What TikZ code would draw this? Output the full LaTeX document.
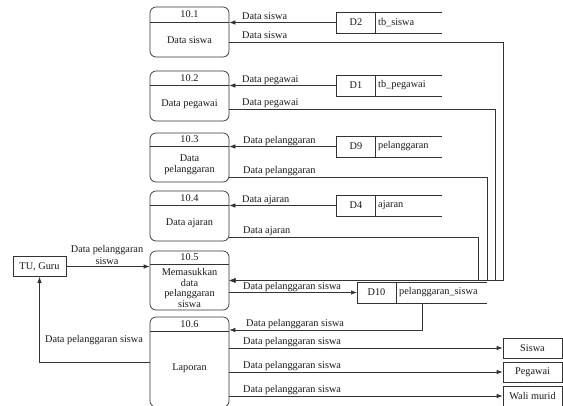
\documentclass[tikz,border=0pt]{standalone}
\usepackage{fontspec}
\setmainfont{Liberation Serif}
\usetikzlibrary{arrows.meta}
\begin{document}
\begin{tikzpicture}[x=1pt,y=-1pt,
  line/.style={draw=black!80, line width=0.7pt},
  flow/.style={line, -{Latex[length=6pt,width=4.5pt]}},
  txt/.style={font=\fontsize{10.3}{10.7}\selectfont, inner sep=0pt, text=black!90, align=center},
  lbl/.style={txt, anchor=base west},
  proc/.style={line, rounded corners=6pt, minimum width=79pt, inner sep=0pt},
  store/.style={line, txt, minimum width=39pt, minimum height=21pt, outer sep=0pt},
  ent/.style={line, txt, minimum height=20pt}
]
\useasboundingbox (0,0) rectangle (563,405);
\clip (0,0) rectangle (563,405);

% processes: rounded box, divider line, number, name
\node[proc, minimum height=50pt] (p1) at (189.5,32) {};
\draw[line] (150,22) -- (229,22);
\node[txt] at (189.5,14.5) {10.1};
\node[txt] at (189.5,40) {Data siswa};

\node[proc, minimum height=50pt] (p2) at (189.5,96) {};
\draw[line] (150,85) -- (229,85);
\node[txt] at (189.5,78) {10.2};
\node[txt] at (189.5,104) {Data pegawai};

\node[proc, minimum height=49pt] (p3) at (189.5,157.5) {};
\draw[line] (150,146) -- (229,146);
\node[txt] at (189.5,139.5) {10.3};
\node[txt] at (189.5,164.5) {Data\\pelanggaran};

\node[proc, minimum height=50pt] (p4) at (189.5,216) {};
\draw[line] (150,205) -- (229,205);
\node[txt] at (189.5,198) {10.4};
\node[txt] at (189.5,223) {Data ajaran};

\node[proc, minimum height=59pt] (p5) at (189.5,280.5) {};
\draw[line] (150,264) -- (229,264);
\node[txt] at (189.5,257.5) {10.5};
\node[txt] at (189.5,288) {Memasukkan\\data\\pelanggaran\\siswa};

\node[proc, minimum height=90pt] (p6) at (189.5,362) {};
\draw[line] (150,331) -- (229,331);
\node[txt] at (189.5,324) {10.6};
\node[txt] at (189.5,368) {Laporan};

% data stores: closed id box plus open-ended table strip
\node[store] (d2) at (356,22.5) {D2};
\draw[line] (d2.north east) -- ([xshift=66.5pt]d2.north east)
            (d2.south east) -- ([xshift=66.5pt]d2.south east);
\node[txt, anchor=west] at (378,22.5) {tb\_siswa};

\node[store] (d1) at (356,85.5) {D1};
\draw[line] (d1.north east) -- ([xshift=66.5pt]d1.north east)
            (d1.south east) -- ([xshift=66.5pt]d1.south east);
\node[txt, anchor=west] at (378,85.5) {tb\_pegawai};

\node[store] (d9) at (356,146.5) {D9};
\draw[line] (d9.north east) -- ([xshift=66.5pt]d9.north east)
            (d9.south east) -- ([xshift=66.5pt]d9.south east);
\node[txt, anchor=west] at (378,146.5) {pelanggaran};

\node[store] (d4) at (356,205.5) {D4};
\draw[line] (d4.north east) -- ([xshift=66.5pt]d4.north east)
            (d4.south east) -- ([xshift=66.5pt]d4.south east);
\node[txt, anchor=west] at (378,205.5) {ajaran};

\node[store] (d10) at (376.5,292.5) {D10};
\draw[line] (d10.north east) -- ([xshift=91pt]d10.north east)
            (d10.south east) -- ([xshift=91pt]d10.south east);
\node[txt, anchor=west] at (399,292.5) {pelanggaran\_siswa};
\coordinate (d10b) at ([xshift=26pt]d10.south east);

% external entities
\node[ent, minimum width=53pt] (tu) at (39.5,266.5) {TU, Guru};
\node[ent, minimum width=59pt] (siswa) at (532.5,348) {Siswa};
\node[ent, minimum width=59pt] (pegawai) at (532.5,372) {Pegawai};
\node[ent, minimum width=59pt] (wali) at (532.5,396) {Wali murid};

% reads from the stores
\draw[flow] (d2.west) -- (d2.west -| p1.east);
\node[lbl] at (242,19.5) {Data siswa};
\draw[flow] (d1.west) -- (d1.west -| p2.east);
\node[lbl] at (242,82) {Data pegawai};
\draw[flow] (d9.west) -- (d9.west -| p3.east);
\node[lbl] at (243,143) {Data pelanggaran};
\draw[flow] (d4.west) -- (d4.west -| p4.east);
\node[lbl] at (242,202) {Data ajaran};

% data passed on to process 10.5
\coordinate (j1) at (503,280.5);
\coordinate (j2) at (495,280.5);
\coordinate (j3) at (487,280.5);
\coordinate (j4) at (478.5,280.5);
\draw[flow] ([yshift=-10pt]p1.east) -| (j1) -- (j1 -| p5.east);
\node[lbl] at (242,38.5) {Data siswa};
\draw[flow] ([yshift=-13pt]p2.east) -| (j2) -- (j2 -| p5.east);
\node[lbl] at (242,105.5) {Data pegawai};
\draw[flow] ([yshift=-19.5pt]p3.east) -| (j3) -- (j3 -| p5.east);
\node[lbl] at (243,173.5) {Data pelanggaran};
\draw[flow] ([yshift=-21pt]p4.east) -| (j4) -- (j4 -| p5.east);
\node[lbl] at (243,233.5) {Data ajaran};

% input from TU, Guru
\draw[flow] (tu.east) -- (tu.east -| p5.west);
\node[txt, font=\fontsize{10.3}{11.8}\selectfont] at (107,255) {Data pelanggaran\\siswa};

% storing and reporting
\draw[flow] (d10.west -| p5.east) -- (d10.west);
\node[lbl] at (243,289) {Data pelanggaran siswa};
\draw[flow] (d10b) |- ([yshift=32pt]p6.east);
\node[lbl] at (246,326.5) {Data pelanggaran siswa};

\draw[flow] (p6.west) -| (tu.south);
\node[txt] at (94,340) {Data pelanggaran siswa};

\draw[flow] (siswa.west -| p6.east) -- (siswa.west);
\node[lbl] at (243,344.5) {Data pelanggaran siswa};
\draw[flow] (pegawai.west -| p6.east) -- (pegawai.west);
\node[lbl] at (243,368.5) {Data pelanggaran siswa};
\draw[flow] (wali.west -| p6.east) -- (wali.west);
\node[lbl] at (243,392.5) {Data pelanggaran siswa};
\end{tikzpicture}
\end{document}
